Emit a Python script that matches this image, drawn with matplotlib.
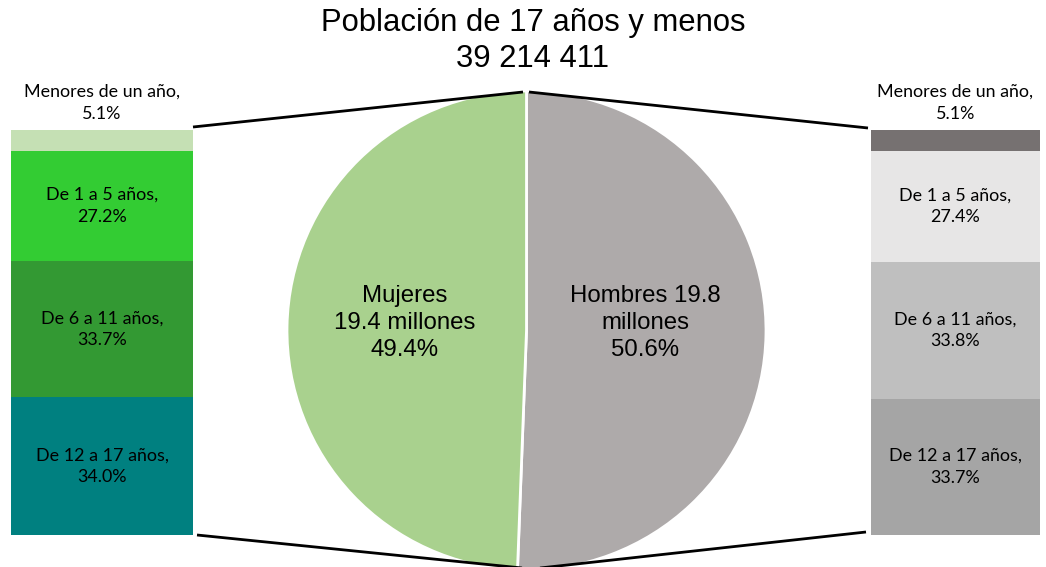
import numpy as np
import matplotlib.pyplot as plt

# Data
title_lines = ["Población de 17 años y menos", "39 214 411"]
sexes = ["Hombres", "Mujeres"]
sex_pct = [50.6, 49.4]
sex_millions = [19.8, 19.4]
age_groups = ["Menores de un año", "De 1 a 5 años", "De 6 a 11 años", "De 12 a 17 años"]
women_pct = [5.1, 27.2, 33.7, 34.0]
men_pct = [5.1, 27.4, 33.8, 33.7]

# Colors
pie_colors = ["#AEAAAA", "#A9D18E"]
women_colors = ["#C5E0B4", "#33CC33", "#339933", "#008080"]
men_colors = ["#767171", "#E7E6E6", "#BFBFBF", "#A5A5A5"]

W, H = 1046, 567
fig = plt.figure(figsize=(W / 100, H / 100), dpi=100)
ax = fig.add_axes([0, 0, 1, 1])

# pie (pixel coords, y up)
cx, cy, r = 526.5, H - 330.5, 239.5
wedges, _ = ax.pie(sex_pct, colors=pie_colors, startangle=90, counterclock=False,
                   center=(cx, cy), radius=r,
                   wedgeprops=dict(edgecolor="white", linewidth=2))
ax.set_xlim(0, W)
ax.set_ylim(0, H)
ax.set_aspect("equal")
ax.axis("off")

pie_font = dict(family="Liberation Sans", fontsize=17.3, ha="center", va="center",
                linespacing=1.3)
ax.text(405, H - 323, f"{sexes[1]}\n{sex_millions[1]} millones\n{sex_pct[1]}%",
        **pie_font)
ax.text(645, H - 323, f"{sexes[0]} {sex_millions[0]}\nmillones\n{sex_pct[0]}%",
        **pie_font)

# title
fig.text(533 / W, 1 - 23 / H, title_lines[0], family="Liberation Sans", fontsize=22.3,
         ha="center", va="center")
fig.text(533 / W, 1 - 59 / H, title_lines[1], family="Liberation Sans", fontsize=22.3,
         ha="center", va="center")

# connector lines
lw = 2
ax.plot([193, 523], [H - 127, H - 92], color="black", lw=lw, solid_capstyle="butt")
ax.plot([197, 522], [H - 535, H - 568], color="black", lw=lw, solid_capstyle="butt")
ax.plot([529, 868], [H - 92, H - 128], color="black", lw=lw, solid_capstyle="butt")
ax.plot([540, 866], [H - 568, H - 532], color="black", lw=lw, solid_capstyle="butt")


def stacked_bar(x0, x1, values, colors):
    bax = fig.add_axes([x0 / W, (H - 535) / H, (x1 - x0) / W, 405 / H])
    bottoms = np.concatenate([[0], np.cumsum(values)[:-1]])
    bax.bar([0] * len(values), values, bottom=bottoms, width=1, color=colors,
            edgecolor="none")
    bax.set_xlim(-0.5, 0.5)
    bax.set_ylim(sum(values), 0)
    bax.axis("off")
    for i, (name, v, b) in enumerate(zip(age_groups, values, bottoms)):
        txt = f"{name},\n{v:.1f}%"
        if i == 0:
            bax.text(0, -2.0, txt, ha="center", va="bottom", family="Lato",
                     fontsize=12.9, linespacing=1.45)
        else:
            bax.text(0, b + v / 2, txt, ha="center", va="center", family="Lato",
                     fontsize=12.9, linespacing=1.45)
    return bax


stacked_bar(11, 193, women_pct, women_colors)
stacked_bar(871, 1040, men_pct, men_colors)

fig.savefig("out.png", dpi=100)
